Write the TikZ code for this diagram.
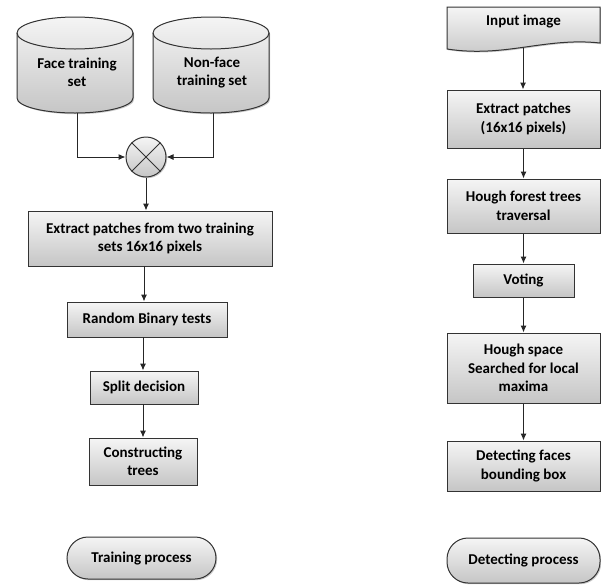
\documentclass[tikz,border=0pt]{standalone}
\usepackage{fontspec}
\setmainfont{Carlito}
\usetikzlibrary{arrows.meta,shadows,calc}
\begin{document}
\begin{tikzpicture}[x=1pt,y=1pt,
  font=\fontsize{15}{18.5}\selectfont\bfseries,
  shadefill/.style={top color=gray!8, bottom color=gray!45, draw=black!80, line width=1pt},
  boxshadow/.style={drop shadow={shadow xshift=1.2pt, shadow yshift=-1.2pt, opacity=0.35, fill=black!60}},
  procbox/.style={shadefill, boxshadow, rectangle, align=center, inner sep=2pt},
  termbox/.style={shadefill, boxshadow, rectangle, rounded corners=21pt, align=center},
  arr/.style={-{Latex[length=7pt,width=6pt]}, line width=1pt, black!85},
  lbl/.style={align=center, inner sep=0pt}
]
\useasboundingbox (0,0) rectangle (601,-584);

% cylinders
\foreach \cx/\nm in {75/cylA, 211/cylB}{
  \path[shadefill, boxshadow] (\cx-58,-33) -- (\cx-58,-98)
     arc[start angle=180, end angle=360, x radius=58, y radius=15]
     -- (\cx+58,-33)
     arc[start angle=0, end angle=180, x radius=58, y radius=16] -- cycle;
  \draw[black!80, line width=1pt] (\cx-58,-33)
     arc[start angle=180, end angle=360, x radius=58, y radius=16];
}
\node[lbl] (cylAtxt) at (77,-72.5) {Face training\\set};
\node[lbl] (cylBtxt) at (212,-72.5) {Non-face\\training set};
\coordinate (cylAbot) at (77,-113);
\coordinate (cylBbot) at (213,-113);

% mixer
\node[circle, shadefill, boxshadow, minimum size=40pt, inner sep=0pt] (mix) at (146,-157) {};
\draw[black!80, line width=1pt] (mix.north west) -- (mix.south east);
\draw[black!80, line width=1pt] (mix.north east) -- (mix.south west);

% left column
\node[procbox, minimum width=244pt, minimum height=55pt] (ext) at (150,-238.5) {Extract patches from two training\\sets 16x16 pixels};
\node[procbox, minimum width=160pt, minimum height=35pt] (rbt) at (147,-319.5) {Random Binary tests};
\node[procbox, minimum width=108pt, minimum height=33pt] (spl) at (144,-387.5) {Split decision};
\node[procbox, minimum width=108pt, minimum height=47pt] (con) at (143,-461.5) {Constructing\\trees};
\node[termbox, minimum width=149pt, minimum height=42pt] (trn) at (141.5,-558) {Training process};

\draw[arr] (cylAbot) |- (mix.west);
\draw[arr] (cylBbot) |- (mix.east);
\draw[arr] (mix.south) -- (mix.south |- ext.north);
\draw[arr] (144,-266) coordinate (e1) -- (e1 |- rbt.north);
\draw[arr] (143,-337) coordinate (e2) -- (e2 |- spl.north);
\draw[arr] (143,-404) coordinate (e3) -- (e3 |- con.north);

% right column
\path[shadefill, boxshadow] (447,-7) -- (600,-7) -- (600,-43)
   .. controls (545,-37) and (505,-58) .. (447,-49) -- cycle;
\node[lbl] (inp) at (523.5,-22) {Input image};
\coordinate (inpbot) at (523,-48);

\node[procbox, minimum width=153pt, minimum height=58pt] (extR) at (523.5,-119) {Extract patches\\(16x16 pixels)};
\node[procbox, minimum width=153pt, minimum height=54pt] (hft) at (523.5,-206) {Hough forest trees\\traversal};
\node[procbox, minimum width=101pt, minimum height=33pt] (vot) at (523.5,-280.5) {Voting};
\node[procbox, minimum width=153pt, minimum height=70pt] (hsp) at (523.5,-368) {Hough space\\Searched for local\\maxima};
\node[procbox, minimum width=153pt, minimum height=50pt] (dfb) at (523.5,-466) {Detecting faces\\bounding box};
\node[termbox, minimum width=153pt, minimum height=45pt] (det) at (523.5,-560.5) {Detecting process};

\draw[arr] (inpbot) -- (inpbot |- extR.north);
\draw[arr] (extR.south) -- (hft.north);
\draw[arr] (hft.south) -- (vot.north);
\draw[arr] (vot.south) -- (hsp.north);
\draw[arr] (hsp.south) -- (dfb.north);
\end{tikzpicture}
\end{document}
